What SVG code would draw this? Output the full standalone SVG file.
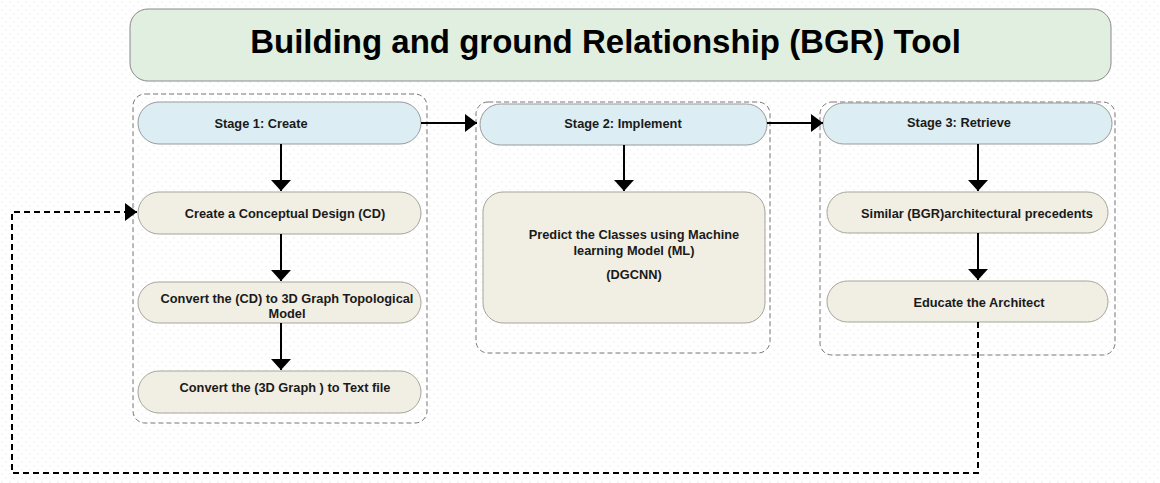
<svg xmlns="http://www.w3.org/2000/svg" width="1160" height="483" viewBox="0 0 1160 483">
<defs>
<marker id="ah" markerWidth="12" markerHeight="18" refX="12" refY="9" orient="auto" markerUnits="userSpaceOnUse">
<path d="M0,0 L12,9 L0,18 Z" fill="#000"/>
</marker>
<marker id="ahd" markerWidth="11" markerHeight="20" refX="11" refY="10" orient="auto" markerUnits="userSpaceOnUse">
<path d="M0,0 L11,10 L0,20 Z" fill="#000"/>
</marker>
<pattern id="dots" width="8" height="8" patternUnits="userSpaceOnUse">
<rect width="8" height="8" fill="#ffffff"/>
<circle cx="2" cy="2" r="1" fill="#f3f3f3"/>
<circle cx="6" cy="6" r="1" fill="#f3f3f3"/>
</pattern>
</defs>
<style>
.container{fill:none;stroke:#777;stroke-width:1;stroke-dasharray:5 3}
.head{fill:#dcedf3;stroke:#999;stroke-width:1}
.step{fill:#f1eee3;stroke:#a5a59a;stroke-width:1}
.t{font-family:"Liberation Sans",Arial,sans-serif;font-weight:bold;font-size:12.8px;fill:#1a1a1a;text-anchor:middle}
.title{font-family:"Liberation Sans",Arial,sans-serif;font-weight:bold;font-size:33px;fill:#000;text-anchor:middle}
.arrow{fill:none;stroke:#000;stroke-width:2}
.loop{fill:none;stroke:#000;stroke-width:2;stroke-dasharray:6 4}
</style>
<rect width="1160" height="483" fill="url(#dots)"/>
<g id="title">
<rect x="130" y="9" width="981" height="72" rx="18" fill="#e1efe1" stroke="#8a8a8a" stroke-width="1"/>
<text class="title" x="605.5" y="53">Building and ground Relationship (BGR) Tool</text>
</g>
<g id="stage1-container"><rect class="container" x="133" y="94" width="294" height="329" rx="12"/></g>
<g id="stage2-container"><rect class="container" x="476" y="102" width="294" height="251" rx="12"/></g>
<g id="stage3-container"><rect class="container" x="820" y="102" width="295" height="253" rx="12"/></g>
<g id="stage1">
<rect class="head" x="138" y="102" width="283" height="42" rx="21"/>
<text class="t" x="261" y="127.5">Stage 1: Create</text>
</g>
<g id="create-cd">
<rect class="step" x="138" y="192" width="283" height="42" rx="21"/>
<text class="t" x="285" y="217.5">Create a Conceptual Design (CD)</text>
</g>
<g id="convert-graph">
<rect class="step" x="138" y="282" width="283" height="41" rx="20.5"/>
<text class="t" x="287" y="302.5">Convert the (CD) to 3D Graph Topological</text>
<text class="t" x="287" y="317.5">Model</text>
</g>
<g id="convert-text">
<rect class="step" x="138" y="371" width="283" height="42" rx="21"/>
<text class="t" x="285" y="391.5">Convert the (3D Graph ) to Text file</text>
</g>
<g id="stage2">
<rect class="head" x="480" y="104" width="287" height="41" rx="20.5"/>
<text class="t" x="623" y="127.5">Stage 2: Implement</text>
</g>
<g id="predict">
<rect class="step" x="483" y="192" width="282" height="131" rx="20"/>
<text class="t" x="634" y="238.5">Predict the Classes using Machine</text>
<text class="t" x="634" y="254.5">learning Model (ML)</text>
<text class="t" x="634" y="278.5">(DGCNN)</text>
</g>
<g id="stage3">
<rect class="head" x="823" y="103" width="289" height="41" rx="20.5"/>
<text class="t" x="959" y="126.5">Stage 3: Retrieve</text>
</g>
<g id="similar">
<rect class="step" x="827" y="192" width="281" height="41" rx="20.5"/>
<text class="t" x="977" y="218">Similar (BGR)architectural precedents</text>
</g>
<g id="educate">
<rect class="step" x="827" y="281" width="281" height="41" rx="20.5"/>
<text class="t" x="979" y="307">Educate the Architect</text>
</g>
<g id="connectors">
<line class="arrow" x1="281" y1="144" x2="281" y2="191" marker-end="url(#ahd)"/>
<line class="arrow" x1="281" y1="234" x2="281" y2="281" marker-end="url(#ahd)"/>
<line class="arrow" x1="281" y1="323" x2="281" y2="370" marker-end="url(#ahd)"/>
<line class="arrow" x1="624" y1="145" x2="624" y2="191" marker-end="url(#ahd)"/>
<line class="arrow" x1="978" y1="144" x2="978" y2="191" marker-end="url(#ahd)"/>
<line class="arrow" x1="978" y1="233" x2="978" y2="280" marker-end="url(#ahd)"/>
<line class="arrow" x1="421" y1="123" x2="477" y2="123" marker-end="url(#ah)"/>
<line class="arrow" x1="767" y1="123" x2="823" y2="123" marker-end="url(#ah)"/>
<path class="loop" d="M978,322 L978,473 L12,473 L12,212 L137,212" marker-end="url(#ah)"/>
</g>
</svg>
